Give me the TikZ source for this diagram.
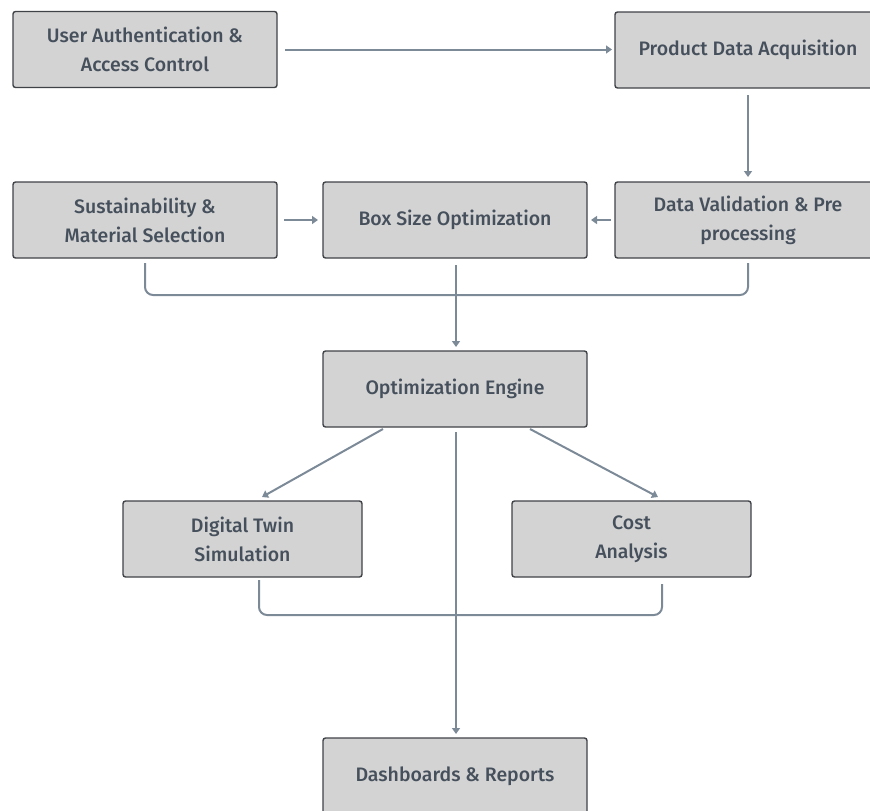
\documentclass[tikz,border=0pt]{standalone}
\usepackage{fontspec}
\setmainfont{Fira Sans Medium}
\usetikzlibrary{arrows.meta}
\definecolor{boxfill}{HTML}{D3D3D3}
\definecolor{boxline}{HTML}{3F4246}
\definecolor{txt}{HTML}{46505C}
\definecolor{conn}{HTML}{7C8A98}
\begin{document}
\begin{tikzpicture}[x=1pt,y=-1pt,
  stepbox/.style={draw=boxline,line width=1.4pt,fill=boxfill,rounded corners=2.5pt,
    minimum height=76pt,inner sep=0pt,text=txt,font=\fontsize{19.5}{29}\selectfont,align=center},
  conn/.style={draw=conn,line width=2pt,-{Triangle[length=6pt,width=8pt]}},
  plain/.style={draw=conn,line width=2pt,rounded corners=8pt}]
\useasboundingbox (0,0) rectangle (870,811);
\node[stepbox,minimum width=264pt] (auth) at (145,49.5) {User Authentication \&\\Access Control};
\node[stepbox,minimum width=266pt] (pda) at (748,50) {Product Data Acquisition};
\node[stepbox,minimum width=266pt] (dv) at (748,220) {Data Validation \& Pre\\processing};
\node[stepbox,minimum width=264pt] (sus) at (145,220) {Sustainability \&\\Material Selection};
\node[stepbox,minimum width=264pt] (bso) at (455,220) {Box Size Optimization};
\node[stepbox,minimum width=264pt] (oe) at (455,389) {Optimization Engine};
\node[stepbox,minimum width=239pt] (dt) at (242.5,539) {Digital Twin\\Simulation};
\node[stepbox,minimum width=239pt] (ca) at (631.5,539) {Cost\\Analysis};
\node[stepbox,minimum width=264pt] (db) at (455,776) {Dashboards \& Reports};
\coordinate (a1) at (285,49.5);
\coordinate (a2) at (612,49.5);
\draw[conn] (a1) -- (a2);
\coordinate (b1) at (748,95);
\coordinate (b2) at (748,177);
\draw[conn] (b1) -- (b2);
\coordinate (c1) at (284,220);
\coordinate (c2) at (318,220);
\draw[conn] (c1) -- (c2);
\coordinate (d1) at (611,220);
\coordinate (d2) at (591,220);
\draw[conn] (d1) -- (d2);
\coordinate (e1) at (145,263);
\coordinate (e2) at (748,263);
\draw[plain] (e1) -- (145,295) -- (748,295) -- (e2);
\coordinate (f1) at (456,265);
\coordinate (f2) at (456,347);
\draw[conn] (f1) -- (f2);
\coordinate (g1) at (383,429);
\coordinate (g2) at (262,497);
\draw[conn] (g1) -- (g2);
\coordinate (h1) at (530,429);
\coordinate (h2) at (658,497);
\draw[conn] (h1) -- (h2);
\coordinate (i1) at (456,432);
\coordinate (i2) at (456,734);
\draw[conn] (i1) -- (i2);
\coordinate (j1) at (259,580);
\coordinate (j2) at (662,584);
\draw[plain] (j1) -- (259,615) -- (662,615) -- (j2);
\end{tikzpicture}
\end{document}
